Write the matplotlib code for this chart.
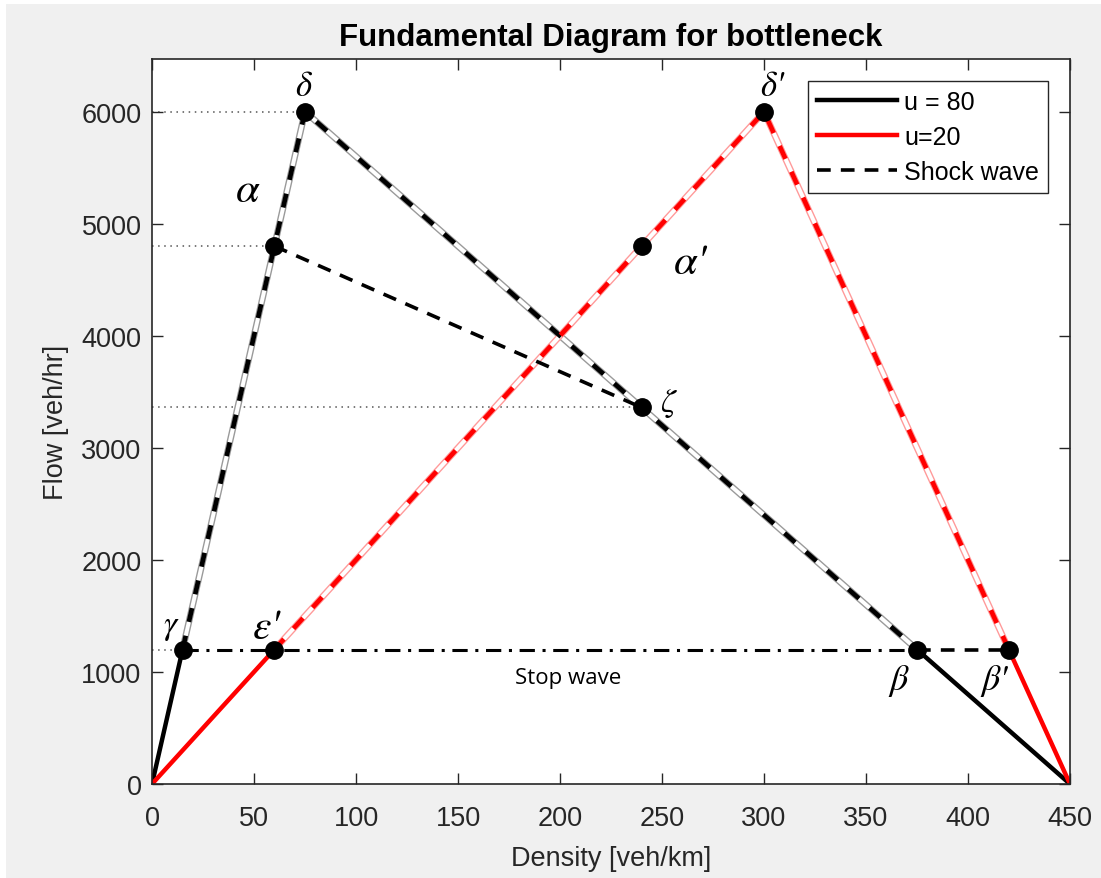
import matplotlib
matplotlib.use("Agg")
import matplotlib.pyplot as plt
from matplotlib.patches import Rectangle

plt.rcParams['font.family'] = ['Liberation Sans', 'DejaVu Sans']

# fundamental diagrams (density, flow)
u80_k = [0, 75, 450]
u80_q = [0, 6000, 0]
u20_k = [0, 300, 450]
u20_q = [0, 6000, 0]

# named states
pt_names = ['gamma', 'eps_p', 'delta', 'alpha', 'zeta', 'alpha_p', 'delta_p', 'beta', 'beta_p']
pt_k = [15, 60, 75, 60, 240, 240, 300, 375, 420]
pt_q = [1200, 1200, 6000, 4800, 3360, 4800, 6000, 1200, 1200]
pt = {n: (k, q) for n, k, q in zip(pt_names, pt_k, pt_q)}

# congested branches traversed during the bottleneck
black_path = ['gamma', 'delta', 'beta']
red_path = ['eps_p', 'delta_p', 'beta_p']

# labels: text, position, size
lab_text = ['δ', "δ'", 'α', "α'", 'ζ', 'γ', "ε'", 'β', "β'"]
lab_k = [74, 304, 47, 264, 253, 9, 56, 366, 413]
lab_q = [6230, 6230, 5300, 4650, 3400, 1420, 1400, 930, 930]
lab_size = [25, 25, 31, 31, 24, 24, 30, 26, 26]

fig = plt.figure(figsize=(11.01, 8.79), dpi=100, facecolor='white')
fig.patches.append(Rectangle((6 / 1101, 0), 1, 874 / 879, transform=fig.transFigure,
                             facecolor='#f0f0f0', edgecolor='none', zorder=-10))
ax = fig.add_axes([152 / 1101, 94 / 879, 918 / 1101, 725 / 879])

# dotted guides to the flow axis
for n in ['delta', 'alpha', 'zeta', 'gamma']:
    k, q = pt[n]
    ax.plot([0, k], [q, q], color='#555555', ls=(0, (1, 3)), lw=1.1, zorder=1)

# base diagrams
ax.plot(u80_k, u80_q, color='black', lw=3.2, label='u = 80', zorder=2)
ax.plot(u20_k, u20_q, color='red', lw=3.2, label='u=20', zorder=2)


def wave_path(names, color, edge):
    ks = [pt[n][0] for n in names]
    qs = [pt[n][1] for n in names]
    ax.plot(ks, qs, color=edge, lw=4.8, zorder=3, solid_capstyle='butt')
    ax.plot(ks, qs, color='white', lw=2.8, zorder=3, solid_capstyle='butt')
    ax.plot(ks, qs, color=color, lw=3.4, ls=(0, (3, 3)), zorder=4)


wave_path(black_path, 'black', '#9a9a9a')
wave_path(red_path, 'red', '#ff9a9a')

# shock wave alpha -> zeta
ax.plot([pt['alpha'][0], pt['zeta'][0]], [pt['alpha'][1], pt['zeta'][1]],
        color='black', lw=2.6, ls=(0, (3.8, 2.8)), label='Shock wave', zorder=5)

# stop wave
ax.plot([pt['gamma'][0], pt['beta'][0]], [1200, 1200], color='black', lw=2.2,
        ls=(0, (5, 2.5, 1, 2.5)), zorder=5)
ax.plot([pt['beta'][0], pt['beta_p'][0]], [1200, 1200], color='black', lw=2.6,
        ls=(0, (3.8, 2.8)), zorder=5)
ax.text(204, 950, 'Stop wave', fontsize=16, family=['Open Sans', 'DejaVu Sans'],
        ha='center', va='center')

ax.plot(pt_k, pt_q, 'o', color='black', ms=12.5, zorder=6)

for t, k, q, s in zip(lab_text, lab_k, lab_q, lab_size):
    ax.text(k, q, t, fontsize=s, ha='center', va='center', zorder=7,
            family=['STIXGeneral', 'DejaVu Serif'], style='italic')

ax.set_xlim(0, 450)
ax.set_ylim(0, 6470)
ax.set_xticks(range(0, 451, 50))
ax.set_yticks(range(0, 6001, 1000))
ax.tick_params(direction='in', top=True, right=True, labelsize=19.5,
               colors='#262626', length=8, width=1)
ax.tick_params(axis='x', pad=15)
ax.tick_params(axis='y', pad=7.5)
for sp in ax.spines.values():
    sp.set_color('#262626')
    sp.set_linewidth(1.2)
ax.set_xlabel('Density [veh/km]', fontsize=19.5, color='#262626', labelpad=10)
ax.set_ylabel('Flow [veh/hr]', fontsize=19.5, color='#262626', labelpad=9)
ax.set_title('Fundamental Diagram for bottleneck', fontsize=22.5, fontweight='bold',
             pad=10)

leg = ax.legend(loc='upper right', fontsize=18, handlelength=3.2, fancybox=False,
                framealpha=1, edgecolor='#262626', borderpad=0.35, labelspacing=0.45,
                handletextpad=0.3, borderaxespad=0, bbox_to_anchor=(0.976, 0.970))
leg.get_frame().set_linewidth(1)

fig.savefig('out.png', dpi=100, facecolor=fig.get_facecolor())
